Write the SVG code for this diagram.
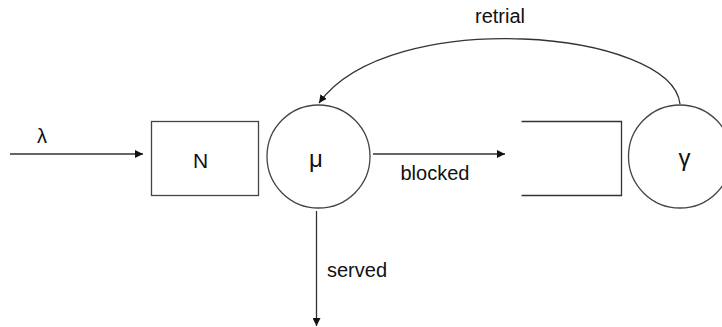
<svg xmlns="http://www.w3.org/2000/svg" width="722" height="327" viewBox="0 0 722 327">
  <style>
    .shape { fill: #ffffff; stroke: #444444; stroke-width: 1.3; }
    .edge { fill: none; stroke: #333333; stroke-width: 1.3; }
    .label { font-family: "Liberation Sans", Arial, sans-serif; font-size: 20px; fill: #111111; }
    .sym { font-family: "Liberation Sans", Arial, sans-serif; font-size: 24px; fill: #111111; text-anchor: middle; }
  </style>
  <defs>
    <marker id="arrow" viewBox="0 0 10 10" refX="10" refY="5" markerWidth="8" markerHeight="8" markerUnits="userSpaceOnUse" orient="auto">
      <path d="M0,0 L10,5 L0,10 Z" fill="#111111"/>
    </marker>
  </defs>

  <rect width="722" height="327" fill="#ffffff"/>

  <!-- queue with capacity N -->
  <g id="queue">
    <rect class="shape" x="151.5" y="121.5" width="107" height="74"/>
    <text class="sym" x="200.5" y="168" style="font-size:21px">N</text>
  </g>

  <!-- service station -->
  <g id="server">
    <circle class="shape" cx="318.5" cy="156.5" r="51.5"/>
    <text class="sym" x="316" y="167">μ</text>
  </g>

  <!-- orbit (open buffer) -->
  <g id="orbit">
    <path class="edge" d="M521.5,121.5 H621.5 V195.5 H521.5"/>
  </g>

  <!-- retrial station -->
  <g id="retrial-server">
    <circle class="shape" cx="680" cy="156.5" r="51.5"/>
    <text class="sym" x="684.5" y="166">γ</text>
  </g>

  <g id="connectors">
    <line class="edge" x1="10" y1="154" x2="143" y2="154" marker-end="url(#arrow)"/>
    <line class="edge" x1="373" y1="154" x2="505" y2="154" marker-end="url(#arrow)"/>
    <line class="edge" x1="316.5" y1="211" x2="316.5" y2="326" marker-end="url(#arrow)"/>
    <path class="edge" d="M680,104 C672,30 390,5 319,103" marker-end="url(#arrow)"/>
  </g>

  <g id="labels">
    <text class="label" x="37" y="143">λ</text>
    <text class="label" x="400.5" y="180">blocked</text>
    <text class="label" x="475" y="22.5">retrial</text>
    <text class="label" x="327" y="277">served</text>
  </g>
</svg>
